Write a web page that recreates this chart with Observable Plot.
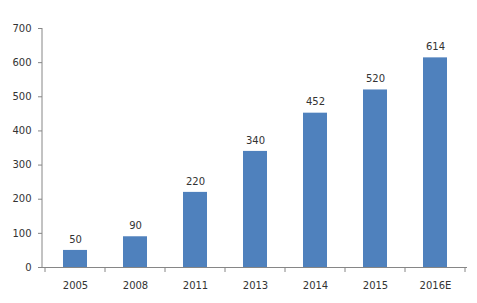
<!DOCTYPE html>
<html>
<head>
<meta charset="utf-8">
<script src="https://cdn.jsdelivr.net/npm/d3@7"></script>
<script src="https://cdn.jsdelivr.net/npm/@observablehq/plot@0.6"></script>
<style>
  html, body { margin: 0; padding: 0; background: #fff; }
  svg { display: block; }
</style>
</head>
<body>
<div id="chart"></div>
<script>
const years = ["2005", "2008", "2011", "2013", "2014", "2015", "2016E"];
const values = [50, 90, 220, 340, 452, 520, 614];
const yTicks = [0, 100, 200, 300, 400, 500, 600, 700];

const data = years.map((y, i) => ({year: y, value: values[i]}));

const textColor = "#333333";
const axisColor = "#868686";
const barColor = "#4F81BD";

const chart = Plot.plot({
  width: 477,
  height: 303,
  marginLeft: 42,
  marginRight: 10,
  marginTop: 28,
  marginBottom: 36,
  style: {fontFamily: "DejaVu Sans", fontSize: "10px", color: textColor, background: "#fff"},
  x: {domain: years, paddingInner: 0.6, paddingOuter: 0.3, label: null},
  y: {domain: [0, 700], label: null},
  marks: [
    Plot.barY(data, {x: "year", y: "value", fill: barColor}),
    Plot.text(data, {x: "year", y: "value", text: d => String(d.value), dy: -11, fill: textColor, fontSize: 10}),
    Plot.axisY({ticks: yTicks, tickSize: 4, tickPadding: 7, stroke: axisColor, fill: textColor, label: null}),
    Plot.axisX({tickSize: 0, tickPadding: 14, fill: textColor, label: null}),
    Plot.ruleY([0], {stroke: axisColor})
  ]
});

document.getElementById("chart").appendChild(chart);

// y-axis line and x-axis category-boundary ticks, from the chart's own scales
const xs = chart.scale("x");
const ys = chart.scale("y");
const svg = d3.select(chart);
const yTop = Math.min(...ys.range), yBot = Math.max(...ys.range);
const x0 = Math.min(...xs.range);
svg.append("line")
  .attr("x1", x0).attr("x2", x0).attr("y1", yTop).attr("y2", yBot)
  .attr("stroke", axisColor);
const gap = (xs.step - xs.bandwidth) / 2;
const boundaries = d3.range(years.length + 1).map(i =>
  i < years.length
    ? xs.apply(years[i]) - gap
    : xs.apply(years[years.length - 1]) + xs.bandwidth + gap
);
svg.append("g").selectAll("line").data(boundaries).join("line")
  .attr("x1", d => d).attr("x2", d => d)
  .attr("y1", yBot).attr("y2", yBot + 5)
  .attr("stroke", axisColor);
</script>
</body>
</html>
